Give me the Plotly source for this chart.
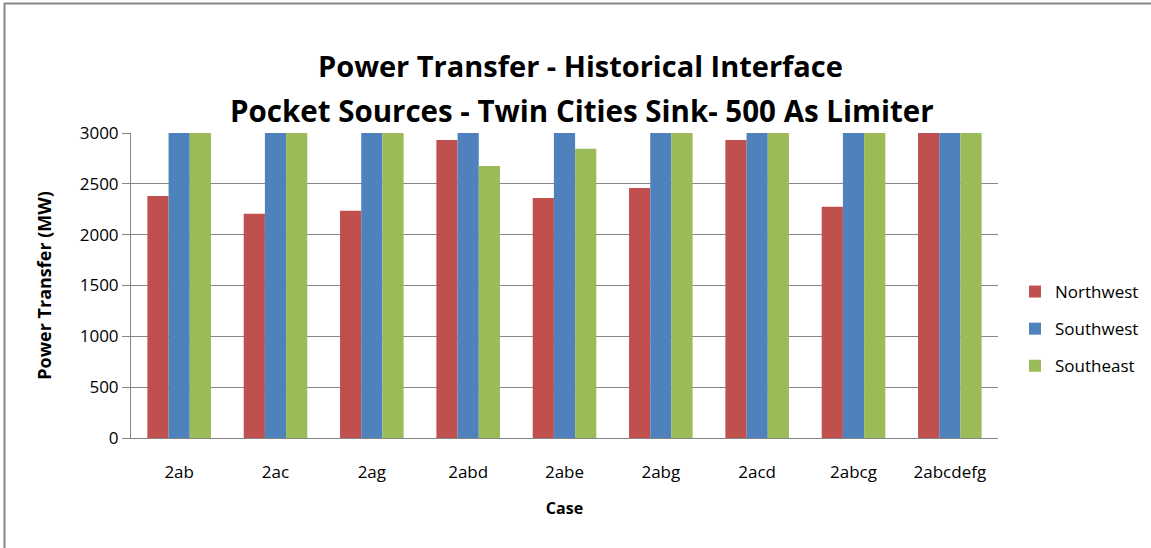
import plotly.graph_objects as go

cases = ["2ab", "2ac", "2ag", "2abd", "2abe", "2abg", "2acd", "2abcg", "2abcdefg"]
northwest = [2380, 2205, 2235, 2930, 2360, 2460, 2930, 2275, 3000]
southwest = [3000, 3000, 3000, 3000, 3000, 3000, 3000, 3000, 3000]
southeast = [3000, 3000, 3000, 2675, 2845, 3000, 3000, 3000, 3000]

series_names = ["Northwest", "Southwest", "Southeast"]
series_colors = ["#C0504D", "#4F81BD", "#9BBB59"]

W, H = 1151, 548
L, R, T, B = 131, 998, 133, 438

def px(x):
    return (x - L) / (R - L)

def py(y):
    return (B - y) / (B - T)

fig = go.Figure()
for name, vals, col in zip(series_names, [northwest, southwest, southeast], series_colors):
    fig.add_trace(go.Bar(x=cases, y=vals, name=name, legendgroup=name,
                         marker=dict(color=col, line=dict(width=0))))

font_family = "Open Sans, Noto Sans, sans-serif"

fig.update_layout(
    width=W, height=H,
    margin=dict(l=L, r=W - R, t=T, b=H - B, autoexpand=False),
    paper_bgcolor="white", plot_bgcolor="white",
    barmode="group", bargap=0.34, bargroupgap=0,
    font=dict(family=font_family, color="black"),
    showlegend=True,
    legend=dict(x=px(1015), y=py(274), xanchor="left", yanchor="top",
                font=dict(size=17, family=font_family, color="black"),
                tracegroupgap=12, itemwidth=30, bgcolor="rgba(0,0,0,0)"),
    xaxis=dict(showline=True, linecolor="#868686", linewidth=1,
               ticks="", tickfont=dict(size=17), ticklabelstandoff=19,
               title=dict(text="<b>Case</b>", font=dict(size=16), standoff=20)),
    yaxis=dict(range=[0, 3000], dtick=500, showgrid=True, gridcolor="#868686", gridwidth=1,
               showline=True, linecolor="#868686", linewidth=1, zeroline=False,
               ticks="outside", ticklen=8, tickcolor="#868686",
               tickfont=dict(size=17),
               title=dict(text="<b>Power Transfer (MW)</b>", font=dict(size=18), standoff=23)),
    annotations=[
        dict(text="<b>Power Transfer - Historical Interface</b>", x=px(580), y=py(44),
             xref="paper", yref="paper", showarrow=False, font=dict(size=29, family=font_family)),
        dict(text="<b>Pocket Sources - Twin Cities Sink- 500 As Limiter</b>", x=px(582), y=py(88),
             xref="paper", yref="paper", showarrow=False, font=dict(size=29.5, family=font_family)),
    ],
    shapes=[
        dict(type="line", xref="paper", yref="paper", x0=px(4), x1=px(1160), y0=py(3.5), y1=py(3.5),
             line=dict(color="#868686", width=2)),
        dict(type="line", xref="paper", yref="paper", x0=px(4.5), x1=px(4.5), y0=py(3), y1=py(560),
             line=dict(color="#868686", width=2)),
    ],
)

fig.write_html("out.html", config={"displayModeBar": False},
               post_script="document.body.style.margin='0';")
